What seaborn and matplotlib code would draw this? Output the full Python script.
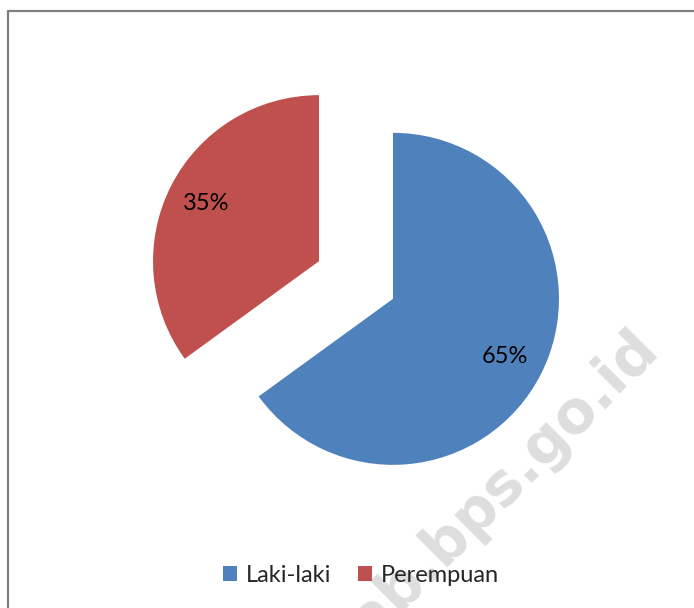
import matplotlib
matplotlib.use('Agg')
import matplotlib.pyplot as plt
from matplotlib.lines import Line2D
import seaborn as sns

# data
labels = ['Laki-laki', 'Perempuan']
values = [65, 35]
colors = ['#4F81BD', '#C0504D']

sns.set_theme(style='white')
plt.rcParams['font.family'] = ['Lato', 'DejaVu Sans']

W, H = 694, 608
fig = plt.figure(figsize=(W / 100, H / 100), dpi=100)
ax = fig.add_axes([0, 0, 1, 1])

# faint watermark behind the chart (runs off the bottom edge, as in the source)
fig.text(660 / W, 1 - 350 / H, 'kab.bps.go.id', rotation=45, rotation_mode='anchor',
         fontsize=42, fontweight='bold', color='#dedede', ha='right', va='baseline',
         zorder=0, family='DejaVu Sans')

wedges, texts, autotexts = ax.pie(values, colors=colors, startangle=90, counterclock=False,
                                  explode=[0.25, 0.25], autopct='%1.0f%%', pctdistance=0.76,
                                  wedgeprops=dict(linewidth=0),
                                  textprops=dict(fontsize=17, color='black'))

# pie radius = 166 px, pie center at pixel (356, 280)
r = 166.0
cx, cy = 356, 280
ax.set_xlim(-cx / r, (W - cx) / r)
ax.set_ylim(-(H - cy) / r, cy / r)
ax.set_aspect('auto')
ax.axis('off')

fig.legend(wedges, labels, loc='center', bbox_to_anchor=(361 / W, 1 - 575 / H), ncol=2,
           frameon=False, fontsize=17, handlelength=0.6, handleheight=0.6,
           handletextpad=0.4, columnspacing=1.1)

# chart border (top and left only are visible)
fig.add_artist(Line2D([7.5 / W, 1], [1 - 10.5 / H, 1 - 10.5 / H], color='#808080', lw=1.6))
fig.add_artist(Line2D([7.5 / W, 7.5 / W], [0, 1 - 10.5 / H], color='#808080', lw=1.6))

fig.savefig('out.png', dpi=100)
